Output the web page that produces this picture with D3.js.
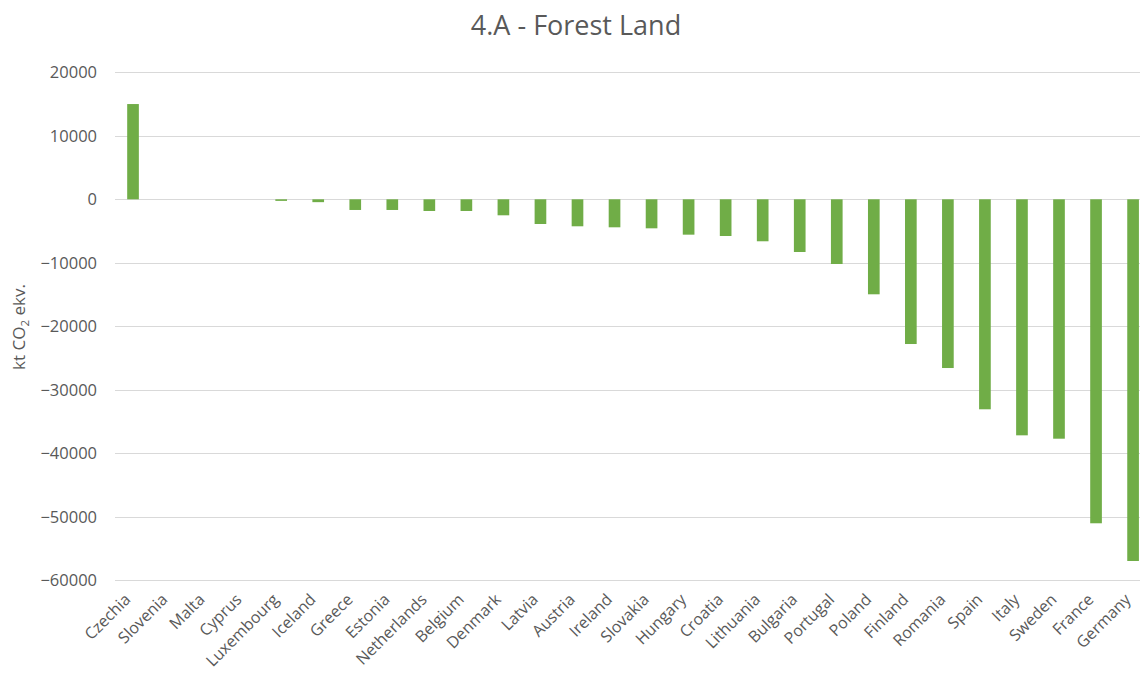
<!DOCTYPE html>
<html>
<head>
<meta charset="utf-8">
<script src="https://cdn.jsdelivr.net/npm/d3@7"></script>
<style>
  html, body { margin: 0; padding: 0; background: #fff; }
  svg { display: block; font-family: "Open Sans", sans-serif; }
</style>
</head>
<body>
<svg id="chart" width="1140" height="679"></svg>
<script>
// Net emissions/removals from forest land by country (kt CO2 eq.)
const countries = ["Czechia", "Slovenia", "Malta", "Cyprus", "Luxembourg", "Iceland", "Greece",
  "Estonia", "Netherlands", "Belgium", "Denmark", "Latvia", "Austria", "Ireland", "Slovakia",
  "Hungary", "Croatia", "Lithuania", "Bulgaria", "Portugal", "Poland", "Finland", "Romania",
  "Spain", "Italy", "Sweden", "France", "Germany"];
const values = [15000, 0, 0, 0, -250, -450, -1680, -1680, -1840, -1840, -2520, -3890, -4250,
  -4410, -4570, -5570, -5780, -6610, -8300, -10190, -14960, -22790, -26570, -33070, -37170,
  -37700, -51020, -56960];
const yTicks = [20000, 10000, 0, -10000, -20000, -30000, -40000, -50000, -60000];
const titleText = "4.A - Forest Land";

const svg = d3.select("#chart");
const textColor = "#595959";

const x = d3.scaleBand()
  .domain(countries)
  .range([114.5, 1151.6])
  .paddingInner(0.685)
  .paddingOuter(0.3425);

const y = d3.scaleLinear()
  .domain([-60000, 20000])
  .range([580.3, 72.3]);

// horizontal gridlines
svg.append("g")
  .selectAll("line")
  .data(yTicks)
  .join("line")
  .attr("x1", 115)
  .attr("x2", 1152)
  .attr("y1", d => Math.round(y(d)) + 0.5)
  .attr("y2", d => Math.round(y(d)) + 0.5)
  .attr("stroke", "#d9d9d9")
  .attr("stroke-width", 1);

// y axis tick labels
const yAxis = d3.axisLeft(y).tickValues(yTicks).tickSize(0).tickPadding(0).tickFormat(d3.format("d"));
const gy = svg.append("g").attr("transform", "translate(97,0)").call(yAxis);
gy.select(".domain").remove();
gy.selectAll("text")
  .attr("fill", textColor)
  .style("font-size", "16.5px")
  .style("font-family", "'Open Sans', sans-serif");

// bars
svg.append("g")
  .selectAll("rect")
  .data(countries.map((c, i) => ({ c, v: values[i] })))
  .join("rect")
  .attr("x", d => x(d.c))
  .attr("width", x.bandwidth())
  .attr("y", d => y(Math.max(0, d.v)))
  .attr("height", d => Math.abs(y(d.v) - y(0)))
  .attr("fill", "#70ad47");

// x axis category labels, rotated
const xAxis = d3.axisBottom(x).tickSize(0).tickPadding(0);
const gx = svg.append("g").attr("transform", "translate(0,600)").call(xAxis);
gx.select(".domain").remove();
gx.selectAll("text")
  .attr("fill", textColor)
  .style("font-size", "16px")
  .style("font-family", "'Open Sans', sans-serif")
  .attr("text-anchor", "end")
  .attr("dy", "0.05em")
  .attr("transform", "translate(-2,0) rotate(-45)");

// title
svg.append("text")
  .attr("x", 576)
  .attr("y", 35)
  .attr("text-anchor", "middle")
  .attr("fill", textColor)
  .style("font-size", "27px")
  .text(titleText);

// y axis title with subscript
const yl = svg.append("text")
  .attr("transform", "translate(25,327) rotate(-90)")
  .attr("text-anchor", "middle")
  .attr("fill", textColor)
  .style("font-size", "17px");
yl.append("tspan").text("kt CO");
yl.append("tspan").attr("font-size", "11.5px").attr("dy", "4").text("2");
yl.append("tspan").attr("dy", "-4").text(" ekv.");
</script>
</body>
</html>
